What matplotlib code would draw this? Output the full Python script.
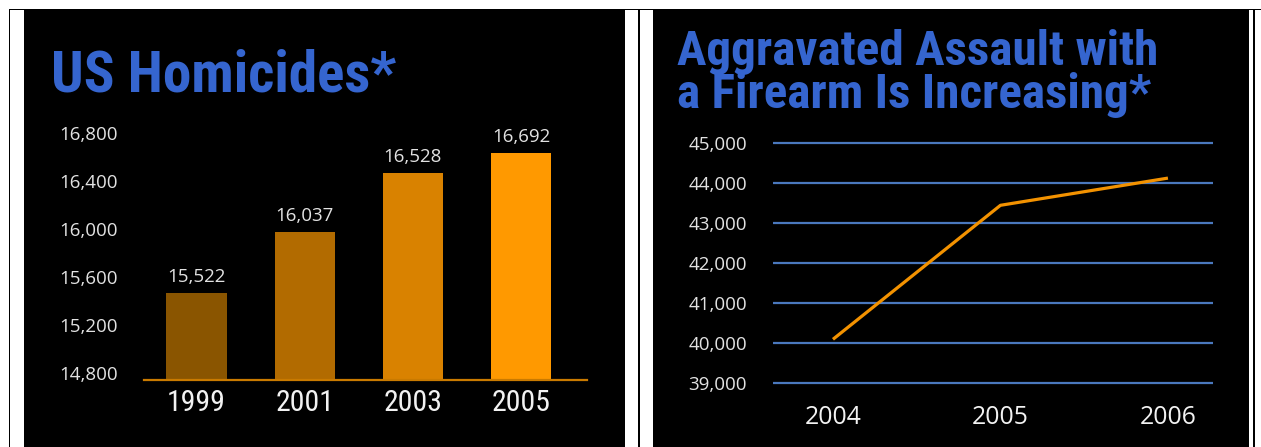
import matplotlib
matplotlib.use('Agg')
import matplotlib.pyplot as plt
from matplotlib import font_manager as fm
from matplotlib.patches import Rectangle
import matplotlib.transforms as mt

# ---------------- data ----------------
hom_title = 'US Homicides*'
hom_years = ['1999', '2001', '2003', '2005']
hom_values = [15522, 16037, 16528, 16692]
hom_colors = ['#8A5500', '#B26B00', '#D98200', '#FF9900']
hom_yticks = [14800, 15200, 15600, 16000, 16400, 16800]

aa_title_lines = ['Aggravated Assault with', 'a Firearm Is Increasing*']
aa_years = ['2004', '2005', '2006']
aa_values = [40100, 43450, 44130]
aa_yticks = [39000, 40000, 41000, 42000, 43000, 44000, 45000]

# ---------------- setup ----------------
W, H, DPI = 1261, 447, 100
fig = plt.figure(figsize=(W / DPI, H / DPI), dpi=DPI)
fig.patch.set_facecolor('white')

avail = {f.name for f in fm.fontManager.ttflist}


def pick(cands):
    for c in cands:
        if c in avail:
            return c
    return 'DejaVu Sans'


TITLE_FONT = pick(['Roboto Condensed', 'Liberation Sans Narrow', 'Open Sans', 'DejaVu Sans'])
TEXT_FONT = pick(['Open Sans', 'Noto Sans', 'DejaVu Sans'])

BLUE = '#3565CF'
TXT = '#E2E2E2'


def fig_rect(x0, y0, x1, y1, color):
    fig.add_artist(Rectangle((x0 / W, 1 - y1 / H), (x1 - x0) / W, (y1 - y0) / H,
                             transform=fig.transFigure, facecolor=color,
                             edgecolor='none', zorder=0))


def add_ax(x0, y0, x1, y1):
    ax = fig.add_axes([x0 / W, 1 - y1 / H, (x1 - x0) / W, (y1 - y0) / H])
    ax.set_facecolor('none')
    for s in ax.spines.values():
        s.set_visible(False)
    ax.set_xticks([])
    ax.set_yticks([])
    return ax


def off(trans, dx=0, dy=0):
    return mt.offset_copy(trans, fig=fig, x=dx, y=dy, units='dots')


renderer = fig.canvas.get_renderer()


def fit_width(t, target_px):
    w = t.get_window_extent(renderer).width
    t.set_fontsize(t.get_fontsize() * target_px / w)


# borders & panels
fig_rect(9, 9, W, 10, 'black')
fig_rect(9, 9, 10, H, 'black')
fig_rect(638, 9, 640, H, 'black')
fig_rect(24, 10, 625, H, 'black')
fig_rect(653, 10, 1249, H, 'black')
fig_rect(1253, 9, 1255, H, 'black')

# ---------------- left: bar chart ----------------
ax1 = add_ax(144, 130, 587, 380)
ax1.set_ylim(14800, 14800 + 250 / 0.12)
ax1.set_xlim(-0.485, 3.609)
xs = list(range(len(hom_years)))
ax1.bar(xs, hom_values, width=0.555, color=hom_colors, edgecolor='none', zorder=2)
ax1.axhline(14800, color='#C97A00', lw=1.6, clip_on=False, zorder=3)
for x, v in zip(xs, hom_values):
    ax1.text(x, v, f'{v:,}', transform=off(ax1.transData, 0, 16), ha='center',
             va='center', fontsize=13.5, color=TXT, family=TEXT_FONT)
for x, lab in zip(xs, hom_years):
    ax1.text(x, 0, lab, transform=off(ax1.get_xaxis_transform(), 0, -23), ha='center',
             va='center', fontsize=21.5, color='#F2F2F2', family=TITLE_FONT)
for v in hom_yticks:
    ax1.text(0, v, f'{v:,}', transform=off(ax1.get_yaxis_transform(), -26, 5), ha='right',
             va='center', fontsize=13.5, color=TXT, family=TEXT_FONT)

t1 = fig.text(51 / W, 1 - 92 / H, hom_title, fontsize=40, fontweight='bold', color=BLUE,
              family=TITLE_FONT, ha='left', va='baseline')
fit_width(t1, 345)

# ---------------- right: line chart ----------------
ax2 = add_ax(773, 133, 1213, 393)
ax2.set_ylim(39000 - (393 - 383.3) * 25, 45000 + (143.3 - 133) * 25)
ax2.set_xlim(-0.358, 2.269)
for v in aa_yticks:
    ax2.axhline(v, color='#4A78BE', lw=1.6, zorder=1)
    ax2.text(0, v, f'{v:,}', transform=off(ax2.get_yaxis_transform(), -26, -1.5), ha='right',
             va='center', fontsize=13.5, color=TXT, family=TEXT_FONT)
xs2 = list(range(len(aa_years)))
ax2.plot(xs2, aa_values, color='#F39200', lw=2.3, zorder=3, solid_capstyle='butt')
for x, lab in zip(xs2, aa_years):
    ax2.text(x, 0, lab, transform=off(ax2.get_xaxis_transform(), 0, -25), ha='center',
             va='center', fontsize=17.8, color='#F2F2F2', family=TEXT_FONT)

t2a = fig.text(677 / W, 1 - 65 / H, aa_title_lines[0], fontsize=35.5, fontweight='bold',
               color=BLUE, family=TITLE_FONT, ha='left', va='baseline')
t2b = fig.text(677 / W, 1 - 108 / H, aa_title_lines[1], fontsize=35.5,
               fontweight='bold', color=BLUE, family=TITLE_FONT, ha='left', va='baseline')

fig.savefig('out.png', dpi=DPI, facecolor=fig.get_facecolor())
